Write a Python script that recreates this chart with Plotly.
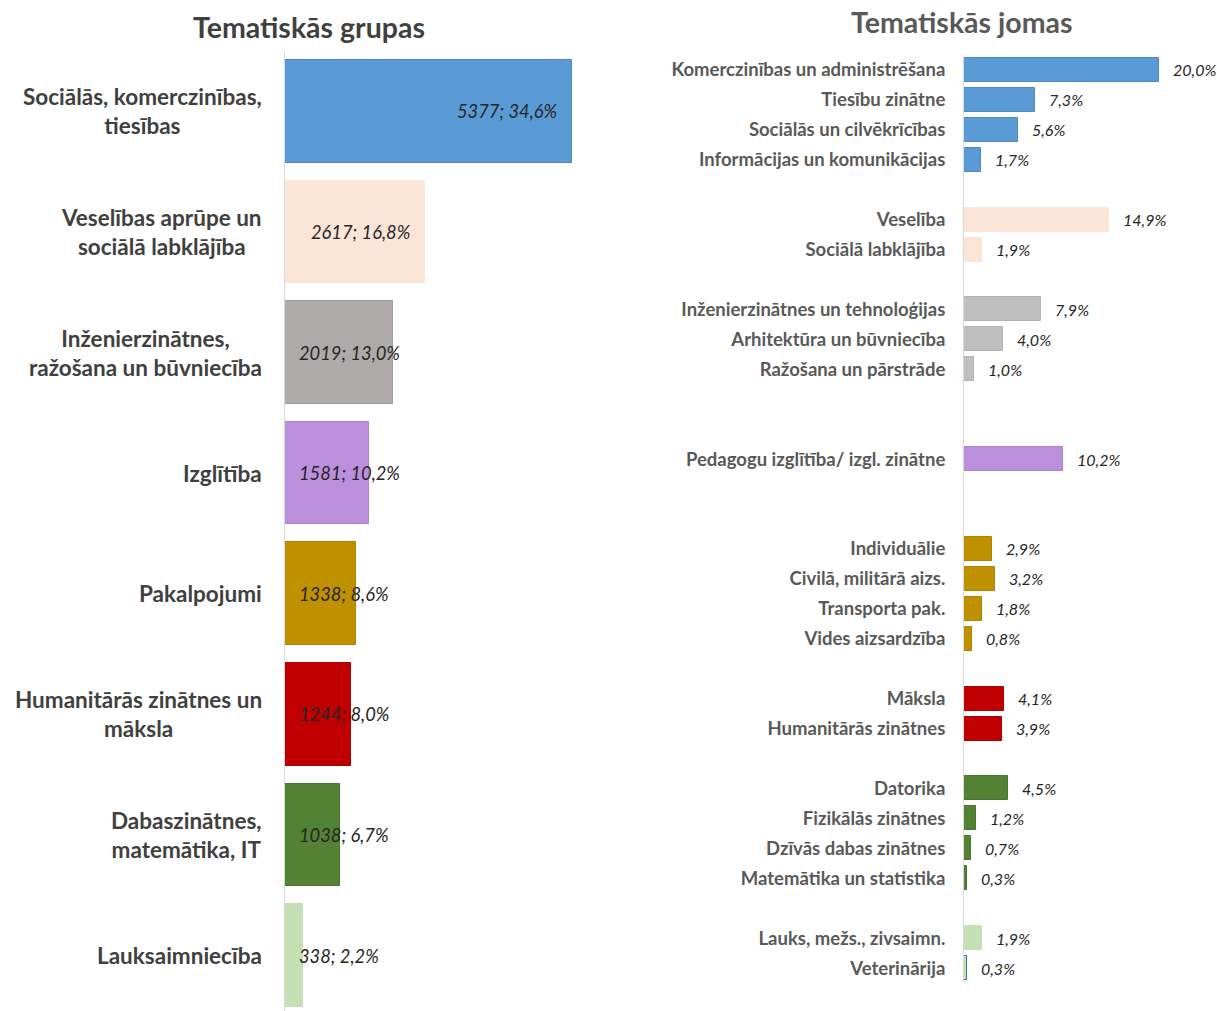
import plotly.graph_objects as go

# ---------------- data ----------------
group_labels = [
    "Sociālās, komerczinības,<br>tiesības",
    "Veselības aprūpe un<br>sociālā labklājība",
    "Inženierzinātnes,<br>ražošana un būvniecība",
    "Izglītība",
    "Pakalpojumi",
    "Humanitārās zinātnes un<br>māksla",
    "Dabaszinātnes,<br>matemātika, IT",
    "Lauksaimniecība",
]
group_counts = [5377, 2617, 2019, 1581, 1338, 1244, 1038, 338]
group_pct = ["34,6%", "16,8%", "13,0%", "10,2%", "8,6%", "8,0%", "6,7%", "2,2%"]

field_names = [
    "Komerczinības un administrēšana", "Tiesību zinātne", "Sociālās un cilvēkrīcības",
    "Informācijas un komunikācijas",
    "Veselība", "Sociālā labklājība",
    "Inženierzinātnes un tehnoloģijas", "Arhitektūra un būvniecība", "Ražošana un pārstrāde",
    "Pedagogu izglītība/ izgl. zinātne",
    "Individuālie", "Civilā, militārā aizs.", "Transporta pak.", "Vides aizsardzība",
    "Māksla", "Humanitārās zinātnes",
    "Datorika", "Fizikālās zinātnes", "Dzīvās dabas zinātnes", "Matemātika un statistika",
    "Lauks, mežs., zivsaimn.", "Veterinārija",
]
field_pct = [20.0, 7.3, 5.6, 1.7, 14.9, 1.9, 7.9, 4.0, 1.0, 10.2,
             2.9, 3.2, 1.8, 0.8, 4.1, 3.9, 4.5, 1.2, 0.7, 0.3, 1.9, 0.3]
field_group = [0, 0, 0, 0, 1, 1, 2, 2, 2, 3, 4, 4, 4, 4, 5, 5, 6, 6, 6, 6, 7, 7]

# ---------------- styles ----------------
left_colors = ["#5B9BD5", "#FBE5D6", "#AEAAAA", "#BC8FDD", "#BF9000", "#C00000", "#548235", "#C5E0B4"]
left_lines = ["#4F8AC0", "#FBE5D6", "#A09C9C", "#B083D2", "#B08500", "#B00000", "#4A7530", "#C5E0B4"]
right_colors = ["#5B9BD5", "#FBE5D6", "#BFBFBF", "#BC8FDD", "#BF9000", "#C00000", "#548235", "#C5E0B4"]
right_lines = ["#4F8AC0", "#FBE5D6", "#B3B3B3", "#B083D2", "#B08500", "#B00000", "#4A7530", "#C5E0B4"]
group_gaps = [1, 1, 2, 2, 1, 1, 1]   # empty slots between consecutive groups (right chart)

W, H = 1217, 1011
FONT = "Lato"

# slot positions for right chart
field_pos = []
slot = 0
for i, g in enumerate(field_group):
    if i > 0 and g != field_group[i - 1]:
        slot += group_gaps[field_group[i - 1]]
    field_pos.append(slot)
    slot += 1
last_slot = field_pos[-1]

fig = go.Figure()

# left chart
fig.add_trace(go.Bar(
    x=group_counts, y=list(range(len(group_counts))), orientation="h",
    marker=dict(color=left_colors, line=dict(color=left_lines, width=1)),
    width=0.85, xaxis="x", yaxis="y", hoverinfo="skip", showlegend=False,
))

# right chart
fig.add_trace(go.Bar(
    x=field_pct, y=field_pos, orientation="h",
    marker=dict(color=[right_colors[g] for g in field_group],
                line=dict(color=[right_lines[g] if n != "Veterinārija" else "#2E75B6"
                                 for g, n in zip(field_group, field_names)], width=1)),
    width=0.8, xaxis="x2", yaxis="y2", hoverinfo="skip", showlegend=False,
))

annotations = []
# left category labels
for i, lab in enumerate(group_labels):
    annotations.append(dict(
        text="<b>" + lab + "</b>", x=264 / W, xref="paper", xanchor="right",
        y=i, yref="y", yanchor="middle", align="center", showarrow=False,
        font=dict(family=FONT, size=22.5, color="#404040"),
    ))
# left value labels
for i, (c, p) in enumerate(zip(group_counts, group_pct)):
    txt = "<i>%d; %s</i>" % (c, p)
    if c > 2200:
        annotations.append(dict(text=txt, x=c, xref="x", xanchor="right", xshift=-13,
                                y=i, yref="y", showarrow=False,
                                font=dict(family=FONT, size=18.3, color="#262626")))
    else:
        annotations.append(dict(text=txt, x=0, xref="x", xanchor="left", xshift=12,
                                y=i, yref="y", showarrow=False,
                                font=dict(family=FONT, size=18.3, color="#262626")))
# right value labels
for v, pos in zip(field_pct, field_pos):
    annotations.append(dict(text="<i>" + ("%.1f" % v).replace(".", ",") + "%</i>",
                            x=v, xref="x2", xanchor="left", xshift=12,
                            y=pos, yref="y2", showarrow=False,
                            font=dict(family=FONT, size=16, color="#262626")))
# titles
annotations.append(dict(text="<b>Tematiskās grupas</b>", x=309 / W, xref="paper", xanchor="center",
                        y=1 - 27 / H, yref="paper", yanchor="middle", showarrow=False,
                        font=dict(family=FONT, size=28.5, color="#404040")))
annotations.append(dict(text="<b>Tematiskās jomas</b>", x=962 / W, xref="paper", xanchor="center",
                        y=1 - 22 / H, yref="paper", yanchor="middle", showarrow=False,
                        font=dict(family=FONT, size=28.5, color="#595959")))

fig.update_layout(
    width=W, height=H,
    margin=dict(l=0, r=0, t=0, b=0),
    paper_bgcolor="white", plot_bgcolor="white",
    bargap=0,
    xaxis=dict(domain=[285 / W, 600 / W], range=[0, 5900], visible=False, fixedrange=True),
    yaxis=dict(domain=[0, 1 - 51 / H], range=[7.46, -0.5], showticklabels=False,
               showgrid=False, zeroline=False, showline=True, linecolor="#D9D9D9", linewidth=1,
               ticks="", automargin=False, fixedrange=True),
    xaxis2=dict(domain=[964 / W, 1.0], range=[0, 26.0], visible=False, fixedrange=True),
    yaxis2=dict(domain=[1 - 983 / H, 1 - 55 / H], range=[last_slot + 0.5, -0.5],
                tickvals=field_pos, ticktext=field_names, anchor="x2",
                tickfont=dict(family=FONT, size=18.5, color="#595959", weight="bold"),
                showgrid=False, zeroline=False, showline=True, linecolor="#D9D9D9", linewidth=1,
                ticks="", ticklabelstandoff=14, automargin=False, fixedrange=True),
    annotations=annotations,
)

fig.write_html("out.html", config={"displayModeBar": False},
               post_script="document.body.style.margin='0';document.body.style.overflow='hidden';")
